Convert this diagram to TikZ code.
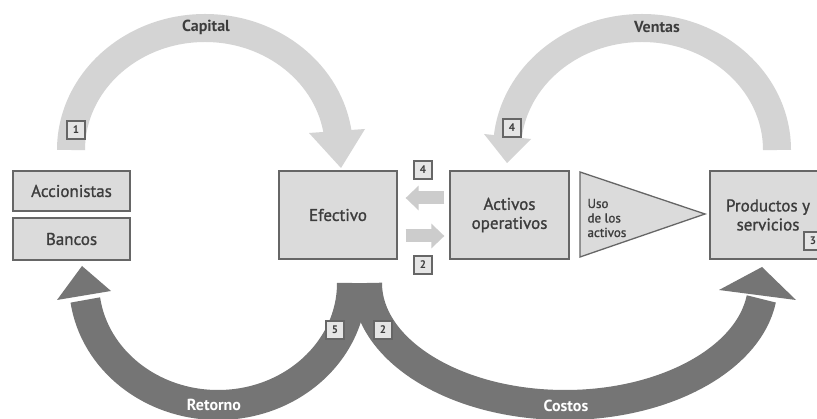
\documentclass[tikz,border=0pt]{standalone}
\usepackage{fontspec}
\setmainfont{PT Sans}
\usetikzlibrary{arrows.meta,calc}

\definecolor{boxfill}{gray}{0.86}
\definecolor{boxline}{gray}{0.40}
\definecolor{boxtext}{gray}{0.24}
\definecolor{lightflow}{gray}{0.83}
\definecolor{darkflow}{gray}{0.46}
\definecolor{flowarrow}{gray}{0.80}

\newfontfamily\heavysans[FakeBold=1.2]{PT Sans}

\tikzset{
  entity/.style={draw=boxline, fill=boxfill, line width=1.3pt, text=boxtext,
    font=\heavysans\fontsize{17}{19}\selectfont, align=center, inner sep=0pt},
  numtag/.style={draw=boxline, fill=white!90!black, line width=1.3pt, text=boxtext,
    minimum size=18pt, inner sep=0pt, font=\bfseries\fontsize{11}{11}\selectfont},
  lightband/.style={draw=lightflow, line width=28pt},
  darkband/.style={draw=darkflow, line width=30pt},
  lighthead/.style={fill=lightflow},
  darkhead/.style={fill=darkflow},
  flowlabel/.style={font=\bfseries\fontsize{16}{16}\selectfont},
  transfer/.style={draw=flowarrow, line width=13pt,
    -{Triangle[length=13pt,width=24pt]}}
}

\begin{document}
\begin{tikzpicture}[x=1pt,y=-1pt]
\useasboundingbox (0,0) rectangle (817,419);
\fill[white] (0,0) rectangle (817,419);

% tails and arrow heads of the four big flows
\coordinate (capTail) at (71,150);
\coordinate (venTail) at (777,150);
\coordinate (retStart) at (352,283);
\coordinate (cosStart) at (367,283);

\coordinate (capL) at (309,133);  \coordinate (capR) at (365,129);  \coordinate (capTip) at (341,168);
\coordinate (venL) at (484,134);  \coordinate (venR) at (531,139);  \coordinate (venTip) at (507,163);
\coordinate (retL) at (57,300);   \coordinate (retR) at (111,291);  \coordinate (retTip) at (82,266);
\coordinate (cosL) at (719,290);  \coordinate (cosR) at (796,300);  \coordinate (cosTip) at (762,267);

% upper flows: capital and sales
\draw[lightband] (capTail)
  arc[start angle=180, end angle=353, x radius=134, y radius=122];
\fill[lighthead] (capL) -- (capTip) -- (capR) -- cycle;
\draw[lightband] (venTail)
  arc[start angle=0, end angle=-175, x radius=135, y radius=122];
\fill[lighthead] (venL) -- (venTip) -- (venR) -- cycle;

% lower flows: return and costs
\draw[darkband] (retStart)
  arc[start angle=0, end angle=172, x radius=134, y radius=122];
\fill[darkhead] (retL) -- (retTip) -- (retR) -- cycle;
\draw[darkband] (cosStart)
  arc[start angle=180, end angle=7.5, x radius=198, y radius=122];
\fill[darkhead] (cosL) -- (cosTip) -- (cosR) -- cycle;

% flow labels
\node[flowlabel, text=boxtext] (lcap) at (206,27) {Capital};
\node[flowlabel, text=boxtext] (lven) at (657,27) {Ventas};
\node[flowlabel, text=white] (lret) at (214,405) {Retorno};
\node[flowlabel, text=white] (lcos) at (566,406) {Costos};

% entities
\node[entity, minimum width=117pt, minimum height=40pt] (acc) at (71.5,191) {Accionistas};
\node[entity, minimum width=117pt, minimum height=42pt] (ban) at (71.5,239) {Bancos};
\node[entity, minimum width=118pt, minimum height=88pt] (ef) at (338,215) {Efectivo};
\node[entity, minimum width=119pt, minimum height=88pt] (act) at (509.5,215) {Activos\\operativos};
\node[entity, minimum width=116pt, minimum height=88pt] (prod) at (768,215) {Productos y\\servicios};

% use of the assets
\coordinate (triA) at (580,172);
\coordinate (triB) at (580,257);
\coordinate (triC) at (705,214);
\draw[draw=boxline, fill=boxfill, line width=1.3pt, line join=miter] (triA) -- (triC) -- (triB) -- cycle;
\node[text=boxtext, font=\heavysans\fontsize{13}{14.5}\selectfont, align=left, anchor=west] (uso) at (584,218) {Uso\\de los\\activos};

% transfers between cash and operating assets
\draw[transfer] ($(act.west)+(-5,-17)$) -- ($(ef.east)+(8,-17)$);
\draw[transfer] ($(ef.east)+(8,21)$) -- ($(act.west)+(-5,21)$);

% step numbers
\node[numtag] (n1) at (76,130) {1};
\node[numtag] (n4a) at (423,170) {4};
\node[numtag] (n2a) at (423,265) {2};
\node[numtag] (n4b) at (512,128) {4};
\node[numtag] (n5) at (335,330) {5};
\node[numtag] (n2b) at (383,330) {2};
\node[numtag] (n3) at (813,241) {3};
\end{tikzpicture}
\end{document}
